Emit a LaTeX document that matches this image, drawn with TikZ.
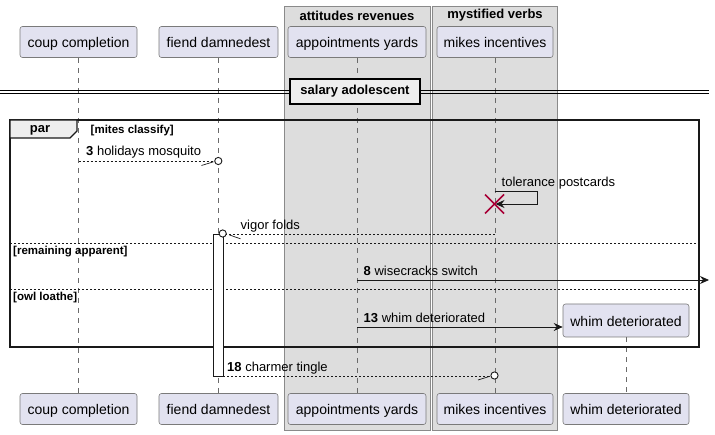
\documentclass[tikz,border=0pt]{standalone}
\usepackage{fontspec}
\setmainfont{Liberation Sans}
\usetikzlibrary{arrows.meta}
\definecolor{partfill}{HTML}{E2E2F0}
\definecolor{partline}{HTML}{7A7A7A}
\definecolor{grpfill}{HTML}{DDDDDD}
\definecolor{grpline}{HTML}{8A8A8A}
\definecolor{xred}{HTML}{A80036}
\definecolor{divfill}{HTML}{EEEEEE}
\definecolor{lifecol}{HTML}{6A6A6A}
\tikzset{
  part/.style={draw=partline, fill=partfill, line width=0.6pt, rounded corners=2.5pt,
    minimum height=31pt, inner sep=0pt, text height=12.5pt, text depth=1pt,
    font=\fontsize{14}{16}\selectfont},
  lifeline/.style={draw=lifecol, line width=0.5pt, dash pattern=on 5pt off 5pt},
  msg/.style={draw=black!90, line width=0.8pt},
  dmsg/.style={draw=black!90, line width=0.7pt, dash pattern=on 2pt off 2pt},
  arr/.style={-{Stealth[length=9pt,width=8pt,inset=3pt]}},
  mtext/.style={font=\fontsize{13}{15}\selectfont, inner sep=0pt, anchor=base west},
  flabel/.style={font=\fontsize{11.5}{13}\selectfont\bfseries, inner sep=0pt, anchor=base west},
  gtitle/.style={font=\fontsize{13}{15}\selectfont\bfseries, inner sep=0pt},
  elseline/.style={draw=black!90, line width=0.7pt, dash pattern=on 2pt off 2pt},
  circtip/.style={draw=black!90, line width=0.9pt, fill=white},
}
\begin{document}
\begin{tikzpicture}[x=1pt,y=-1pt]
\useasboundingbox (0,0) rectangle (715,435);
% groups
\fill[grpfill] (284,6) rectangle (430,430);
\draw[grpline, line width=0.8pt] (284,6) rectangle (430,430);
\node[gtitle] (g1) at (357,15.5) {attitudes revenues};
\fill[grpfill] (432.5,6) rectangle (557.5,430);
\draw[grpline, line width=0.8pt] (432.5,6) rectangle (557.5,430);
\node[gtitle] (g2) at (495,15.5) {mystified verbs};
% participants top
\node[part, minimum width=117pt] (ct) at (78.5,42) {coup completion};
\node[part, minimum width=119pt] (ft) at (218.5,42) {fiend damnedest};
\node[part, minimum width=138pt] (at) at (357,42) {appointments yards};
\node[part, minimum width=116pt] (mt) at (495,42) {mikes incentives};
% participants bottom
\node[part, minimum width=117pt] (cb) at (78.5,409) {coup completion};
\node[part, minimum width=119pt] (fb) at (218.5,409) {fiend damnedest};
\node[part, minimum width=138pt] (ab) at (357,409) {appointments yards};
\node[part, minimum width=116pt] (mb) at (495,409) {mikes incentives};
\node[part, minimum width=126pt] (wb) at (626,409) {whim deteriorated};
\node[part, minimum width=126pt, minimum height=33pt] (wt) at (626,320.5) {whim deteriorated};
% lifelines
\draw[lifeline] (ct.south) -- (cb.north);
\draw[lifeline] (ft.south) -- (fb.north);
\draw[lifeline] (at.south) -- (ab.north);
\draw[lifeline] (mt.south) -- (mb.north);
\draw[lifeline] (wt.south) -- (wb.north);
% divider
\draw[black, line width=0.9pt] (0,90) -- (709,90);
\draw[black, line width=0.9pt] (0,93.5) -- (709,93.5);
\node[draw=black, line width=1.5pt, fill=divfill, minimum width=130pt, minimum height=25pt,
  inner sep=0pt, font=\fontsize{13}{15}\selectfont\bfseries] (div) at (355,91.5) {salary adolescent};
% par frame
\draw[black!90, line width=1.5pt] (10,120) rectangle (699,347);
\draw[black!90, line width=1.2pt, fill=divfill] (10,120) -- (10,138) -- (70,138) -- (77,131) -- (77,120) -- cycle;
\node[gtitle] (par) at (40,130) {par};
\node[flabel] (c1) at (90.5,133.5) {[mites classify]};
\draw[elseline] (10,243.5) -- (699,243.5);
\node[flabel] (c2) at (13,255) {[remaining apparent]};
\draw[elseline] (10,289.5) -- (699,289.5);
\node[flabel] (c3) at (13,301) {[owl loathe]};
% activation
\draw[black!90, line width=0.8pt, fill=white] (213,234) rectangle (223,376);
% coordinates
\coordinate (m3a) at (78.5,161);
\coordinate (m3b) at (218.3,161);
\coordinate (tpa) at (494.5,191);
\coordinate (tpx) at (494.5,204);
\coordinate (vga) at (494.5,234);
\coordinate (vgb) at (222.7,233.5);
\coordinate (m8a) at (357,280);
\coordinate (m8b) at (709,280);
\coordinate (m13a) at (357,327);
\coordinate (m18a) at (223,376);
\coordinate (m18b) at (494.5,375.5);
% message 3
\draw[dmsg] (m3a) -- ([xshift=-3.5pt]m3b);
\draw[msg, line width=0.7pt] (201.5,165.5) -- (213.5,161.8);
\draw[circtip] (m3b) circle (3.6pt);
\node[mtext] (t3) at (86,156) {\textbf{3} holidays mosquito};
% self message tolerance postcards
\draw[msg, arr] (tpa) -- (537,191) -- (537,204) -- ([xshift=1pt]tpx);
\node[mtext] (t4) at (501.5,187) {tolerance postcards};
\draw[xred, line width=1.6pt] ([shift={(-9.5pt,-9.5pt)}]tpx) -- ([shift={(9.5pt,9.5pt)}]tpx);
\draw[xred, line width=1.6pt] ([shift={(-9.5pt,9.5pt)}]tpx) -- ([shift={(9.5pt,-9.5pt)}]tpx);
% vigor folds
\draw[dmsg] (vga) -- ([xshift=3.5pt]vgb |- vga);
\draw[msg, line width=0.7pt] (229.5,235) -- (240.5,238.8);
\draw[circtip] (vgb) circle (3.6pt);
\node[mtext] (t5) at (240.5,230) {vigor folds};
% message 8
\draw[msg, arr] (m8a) -- (m8b);
\node[mtext] (t8) at (363.5,276) {\textbf{8} wisecracks switch};
% message 13
\draw[msg, arr] (m13a) -- (wt.west |- m13a);
\node[mtext] (t13) at (363.5,322.5) {\textbf{13} whim deteriorated};
% message 18
\draw[dmsg] (m18a) -- ([xshift=-3.5pt]m18b |- m18a);
\draw[msg, line width=0.7pt] (478,380) -- (489.8,376.3);
\draw[circtip] (m18b) circle (3.6pt);
\node[mtext] (t18) at (227,372) {\textbf{18} charmer tingle};
\end{tikzpicture}
\end{document}
